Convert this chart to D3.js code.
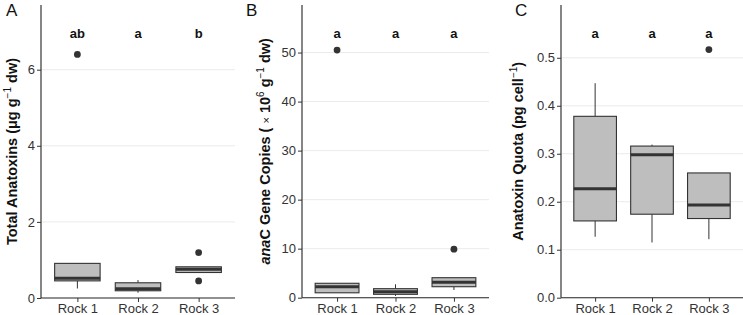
<!DOCTYPE html>
<html><head><meta charset="utf-8">
<script src="https://cdn.jsdelivr.net/npm/d3@7"></script>
<style>
body{margin:0;background:#fff;}
text{font-family:"Liberation Sans",Arial,sans-serif;}
</style></head>
<body><svg id="c" width="743" height="315"></svg>
<script>
const categories = ["Rock 1","Rock 2","Rock 3"];

// Panel A: Total Anatoxins
const aLow = [0.25, 0.14, 0.67];
const aQ1 = [0.45, 0.19, 0.67];
const aMed = [0.52, 0.24, 0.755];
const aQ3 = [0.91, 0.40, 0.82];
const aHigh = [0.91, 0.47, 0.82];
const aOut = [[6.4], [], [1.19, 0.45]];
const aLetters = ["ab","a","b"];
const aTicks = [0, 2, 4, 6];

// Panel B: anaC gene copies
const bLow = [1.0, 0.35, 1.57];
const bQ1 = [1.0, 0.69, 2.24];
const bMed = [2.25, 1.22, 3.14];
const bQ3 = [2.94, 1.84, 4.08];
const bHigh = [2.94, 2.73, 4.08];
const bOut = [[50.5], [], [9.9]];
const bLetters = ["a","a","a"];
const bTicks = [0, 10, 20, 30, 40, 50];

// Panel C: Anatoxin quota
const cLow = [0.127, 0.115, 0.122];
const cQ1 = [0.160, 0.174, 0.165];
const cMed = [0.227, 0.298, 0.193];
const cQ3 = [0.378, 0.316, 0.260];
const cHigh = [0.447, 0.319, 0.260];
const cOut = [[], [], [0.517]];
const cLetters = ["a","a","a"];
const cTicks = [0.0, 0.1, 0.2, 0.3, 0.4, 0.5];

const svg = d3.select("#c");

function panel(o){
  const g = svg.append("g");
  const y = d3.scaleLinear().domain([0, o.ymax]).range([o.bottom, 5]);
  const x = d3.scalePoint().domain(categories).range([o.x0, o.x1]).padding(0.6);
  const step = x.step();
  const bw = step*0.75;
  // gridlines
  g.selectAll(".grid").data(o.ticks.filter(t=>t>0)).join("line")
    .attr("x1", o.x0).attr("x2", o.x1)
    .attr("y1", d=>y(d)).attr("y2", d=>y(d))
    .attr("stroke", "#ebebeb").attr("stroke-width", 1);
  // y axis
  const ya = d3.axisLeft(y).tickValues(o.ticks).tickSize(4).tickPadding(2).tickFormat(o.fmt);
  const yg = g.append("g").attr("transform", `translate(${o.x0},0)`).call(ya);
  yg.select(".domain").attr("stroke","#222").attr("stroke-width",1.1).attr("d", `M0,${y(o.ymax)}V${o.bottom}`);
  yg.selectAll(".tick line").attr("stroke","#333");
  yg.selectAll(".tick text").attr("fill","#333").style("font-size","13px");
  // x axis
  const xa = d3.axisBottom(x).tickSize(4).tickPadding(2);
  const xg = g.append("g").attr("transform", `translate(0,${o.bottom})`).call(xa);
  xg.select(".domain").attr("stroke","#222").attr("stroke-width",1.1).attr("d", `M${o.x0},0H${o.x1}`);
  xg.selectAll(".tick line").attr("stroke","#333");
  xg.selectAll(".tick text").attr("fill","#333").style("font-size","13px");

  const data = categories.map((c,i)=>({c, lo:o.low[i], q1:o.q1[i], md:o.med[i], q3:o.q3[i], hi:o.high[i], out:o.out[i], lab:o.letters[i]}));
  const b = g.selectAll(".box").data(data).join("g");
  b.append("line").attr("x1",d=>x(d.c)).attr("x2",d=>x(d.c))
    .attr("y1",d=>y(d.q3)).attr("y2",d=>y(d.hi)).attr("stroke","#333").attr("stroke-width",1);
  b.append("line").attr("x1",d=>x(d.c)).attr("x2",d=>x(d.c))
    .attr("y1",d=>y(d.q1)).attr("y2",d=>y(d.lo)).attr("stroke","#333").attr("stroke-width",1);
  b.append("rect").attr("x",d=>x(d.c)-bw/2).attr("width",bw)
    .attr("y",d=>y(d.q3)).attr("height",d=>Math.max(0.5,y(d.q1)-y(d.q3)))
    .attr("fill","#bebebe").attr("stroke","#333").attr("stroke-width",1.1);
  b.append("line").attr("x1",d=>x(d.c)-bw/2).attr("x2",d=>x(d.c)+bw/2)
    .attr("y1",d=>y(d.md)).attr("y2",d=>y(d.md)).attr("stroke","#333").attr("stroke-width",3);
  b.selectAll("circle").data(d=>d.out.map(v=>({c:d.c,v}))).join("circle")
    .attr("cx",d=>x(d.c)).attr("cy",d=>y(d.v)).attr("r",3.4).attr("fill","#333");
  b.append("text").attr("x",d=>x(d.c)).attr("y",d=>y(o.labY))
    .attr("text-anchor","middle").attr("dominant-baseline","central")
    .style("font-size","13px").style("font-weight","bold").attr("fill","#111").text(d=>d.lab);

  // panel letter
  svg.append("text").attr("x", o.letterX).attr("y", 16).style("font-size","17px").attr("fill","#111").text(o.letter);
  // y title
  const t = svg.append("text").attr("transform", `translate(${o.titleX},${(o.bottom+5)/2}) rotate(-90)`)
    .attr("text-anchor","middle").style("font-size","14.5px").style("font-weight","bold").attr("fill","#111");
  o.title(t);
}

panel({x0:41, x1:235, bottom:298, ymax:7.7, ticks:aTicks, fmt:d3.format("d"),
  low:aLow,q1:aQ1,med:aMed,q3:aQ3,high:aHigh,out:aOut,letters:aLetters,labY:6.96,
  letter:"A", letterX:6, titleX:17,
  title:t=>{t.append("tspan").text("Total Anatoxins (\u03bcg g");
    t.append("tspan").attr("dy",-6).style("font-size","10px").style("font-weight","normal").text("\u22121");
    t.append("tspan").attr("dy",6).text(" dw)");}});

panel({x0:302, x1:489, bottom:297.7, ymax:59.7, ticks:bTicks, fmt:d3.format("d"),
  low:bLow,q1:bQ1,med:bMed,q3:bQ3,high:bHigh,out:bOut,letters:bLetters,labY:53.9,
  letter:"B", letterX:246, titleX:270,
  title:t=>{t.append("tspan").style("font-style","italic").text("ana");
    t.append("tspan").text("C Gene Copies ( ");
    t.append("tspan").style("font-weight","normal").style("font-size","11px").text("\u00d7");
    t.append("tspan").text(" 10");
    t.append("tspan").attr("dy",-6).style("font-size","10px").style("font-weight","normal").text("6");
    t.append("tspan").attr("dy",6).text(" g");
    t.append("tspan").attr("dy",-6).style("font-size","10px").style("font-weight","normal").text("\u22121");
    t.append("tspan").attr("dy",6).text(" dw)");}});

panel({x0:561, x1:743, bottom:297.7, ymax:0.61, ticks:cTicks, fmt:d3.format(".1f"),
  low:cLow,q1:cQ1,med:cMed,q3:cQ3,high:cHigh,out:cOut,letters:cLetters,labY:0.55,
  letter:"C", letterX:515, titleX:523,
  title:t=>{t.append("tspan").text("Anatoxin Quota (pg cell");
    t.append("tspan").attr("dy",-6).style("font-size","10px").style("font-weight","normal").text("\u22121");
    t.append("tspan").attr("dy",6).text(")");}});
</script></body></html>
